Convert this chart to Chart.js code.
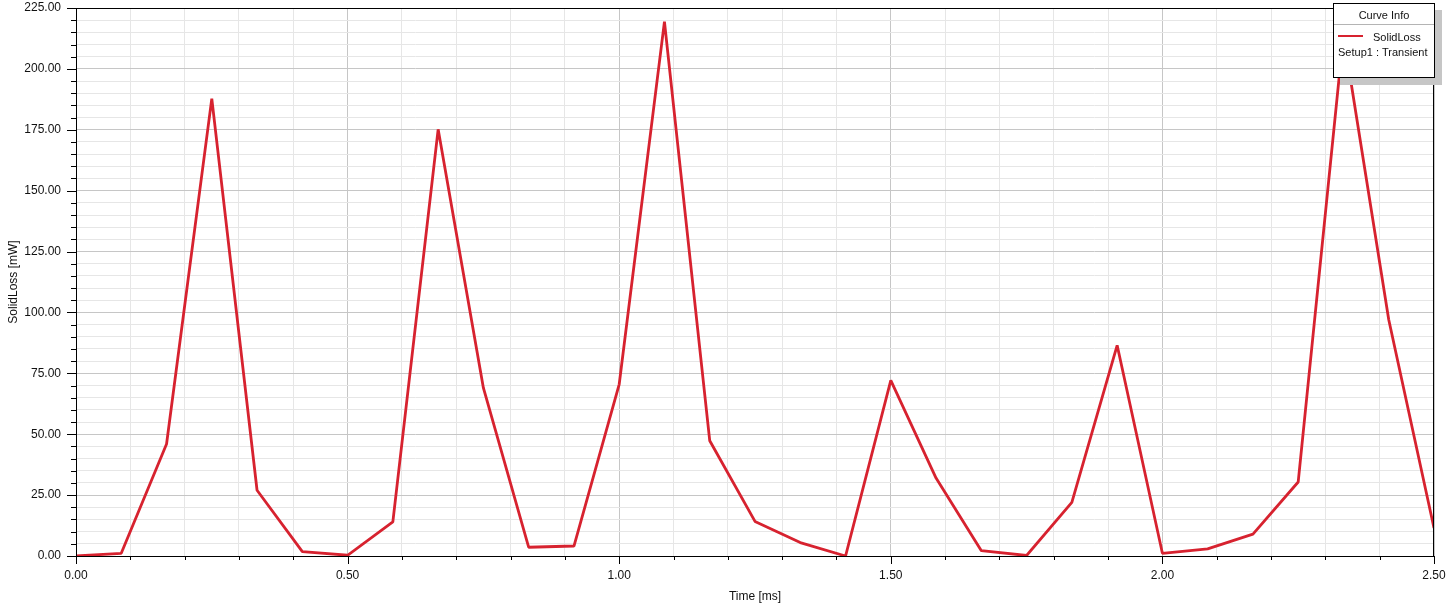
<html>
  <head>
    <script src="https://cdn.jsdelivr.net/npm/chart.js@4"></script>
    <style>
      body { margin: 0; background: #fff; }
    </style>
  </head>
  <body>
    <canvas id="myChart" width="1454" height="606"></canvas>

    <script>
      // time samples [ms] and loss values [mW]
      var timeMs = [0.0000, 0.0833, 0.1667, 0.2500, 0.3333, 0.4167, 0.5000, 0.5833, 0.6667, 0.7500,
                    0.8333, 0.9167, 1.0000, 1.0833, 1.1667, 1.2500, 1.3333, 1.4167, 1.5000, 1.5833,
                    1.6667, 1.7500, 1.8333, 1.9167, 2.0000, 2.0833, 2.1667, 2.2500, 2.3333, 2.4167, 2.5000]
      var solidLoss = [0.0, 1.1, 46.0, 187.8, 27.0, 1.8, 0.3, 14.0, 175.2, 69.0,
                       3.6, 4.1, 70.5, 219.4, 47.3, 14.2, 5.5, 0.0, 72.1, 32.0,
                       2.2, 0.2, 22.0, 86.5, 1.1, 2.9, 9.0, 30.4, 214.0, 97.0, 11.5]

      var seriesName = 'SolidLoss'
      var seriesSetup = 'Setup1 : Transient'
      var xMajorTicks = [0, 0.5, 1.0, 1.5, 2.0, 2.5]
      var yMajorTicks = [0, 25, 50, 75, 100, 125, 150, 175, 200, 225]

      var lineColor = '#d7222f'
      var font = { family: 'Liberation Sans, Arial, sans-serif', size: 12 }

      function isMajor(list, v) {
        return list.some(function (m) { return Math.abs(m - v) < 1e-6 })
      }

      var frame = {
        id: 'frame',
        afterDatasetsDraw: function (chart) {
          var ctx = chart.ctx
          var a = chart.chartArea
          ctx.save()
          // border around plot
          ctx.strokeStyle = '#000'
          ctx.lineWidth = 1
          ctx.strokeRect(a.left + 0.5, a.top + 0.5, a.right - a.left - 1, a.bottom - a.top)

          // tick marks
          var ys = chart.scales.y
          ys.ticks.forEach(function (t) {
            var py = Math.round(ys.getPixelForValue(t.value)) + 0.5
            var len = isMajor(yMajorTicks, t.value) ? 9 : 5
            ctx.beginPath(); ctx.moveTo(a.left - len, py); ctx.lineTo(a.left, py); ctx.stroke()
          })
          var xs = chart.scales.x
          xs.ticks.forEach(function (t) {
            var px = Math.round(xs.getPixelForValue(t.value)) + 0.5
            var len = isMajor(xMajorTicks, t.value) ? 8 : 4
            ctx.beginPath(); ctx.moveTo(px, a.bottom); ctx.lineTo(px, a.bottom + len); ctx.stroke()
          })

          // curve info box
          var r = a.right + 1, w = 102, top = 3, h = 75, l = r - w
          ctx.fillStyle = '#c6c6c6'
          ctx.fillRect(l + 7, top + 7, w, h)
          ctx.fillStyle = '#fff'
          ctx.fillRect(l, top, w, h)
          ctx.strokeStyle = '#000'
          ctx.strokeRect(l + 0.5, top + 0.5, w - 1, h - 1)
          ctx.strokeStyle = '#b4b4b4'
          ctx.beginPath(); ctx.moveTo(l + 1, top + 21.5); ctx.lineTo(r - 1, top + 21.5); ctx.stroke()
          ctx.fillStyle = '#111'
          ctx.font = '11px Liberation Sans, Arial, sans-serif'
          ctx.textBaseline = 'middle'
          ctx.textAlign = 'center'
          ctx.fillText('Curve Info', l + w / 2, top + 13)
          ctx.textAlign = 'left'
          ctx.fillText(seriesName, l + 40, top + 35)
          ctx.fillText(seriesSetup, l + 5, top + 50)
          ctx.strokeStyle = lineColor
          ctx.lineWidth = 2
          ctx.beginPath(); ctx.moveTo(l + 5, top + 33); ctx.lineTo(l + 30, top + 33); ctx.stroke()
          ctx.restore()
        }
      }

      var ctx = document.getElementById('myChart').getContext('2d')
      var chart = new Chart(ctx, {
        type: 'line',
        data: {
          datasets: [{
            label: seriesName,
            data: timeMs.map(function (t, i) { return { x: t, y: solidLoss[i] } }),
            borderColor: lineColor,
            backgroundColor: lineColor,
            borderWidth: 2.8,
            borderJoinStyle: 'bevel',
            pointRadius: 0,
            tension: 0,
            fill: false
          }]
        },
        options: {
          responsive: false,
          animation: false,
          layout: { padding: { top: 8, right: 20, left: 0, bottom: 0 } },
          plugins: { legend: { display: false }, tooltip: { enabled: false } },
          scales: {
            x: {
              type: 'linear',
              min: 0,
              max: 2.5,
              afterFit: function (s) { s.height = 50; s.paddingLeft = 0; s.paddingRight = 0 },
              ticks: {
                stepSize: 0.1,
                autoSkip: false,
                maxTicksLimit: 100,
                maxRotation: 0,
                padding: 12,
                color: '#111',
                font: font,
                callback: function (v) { return isMajor(xMajorTicks, v) ? v.toFixed(2) : '' }
              },
              grid: {
                drawTicks: false,
                color: function (c) { return isMajor(xMajorTicks, c.tick.value) ? '#c6c6c6' : '#e6e6e6' }
              },
              border: { display: false },
              title: { display: true, text: 'Time [ms]', color: '#111', font: font, padding: { top: 0, bottom: 2 } }
            },
            y: {
              min: 0,
              max: 225,
              afterFit: function (s) { s.width = 76; s.paddingTop = 0; s.paddingBottom = 0 },
              ticks: {
                stepSize: 5,
                autoSkip: false,
                maxTicksLimit: 100,
                padding: 15,
                color: '#111',
                font: font,
                callback: function (v) { return isMajor(yMajorTicks, v) ? v.toFixed(2) : '' }
              },
              grid: {
                drawTicks: false,
                color: function (c) { return isMajor(yMajorTicks, c.tick.value) ? '#c6c6c6' : '#e6e6e6' }
              },
              border: { display: false },
              title: { display: true, text: 'SolidLoss [mW]', color: '#111', font: font, padding: { top: 6, bottom: 0 } }
            }
          }
        },
        plugins: [frame]
      })
    </script>
  </body>
</html>
